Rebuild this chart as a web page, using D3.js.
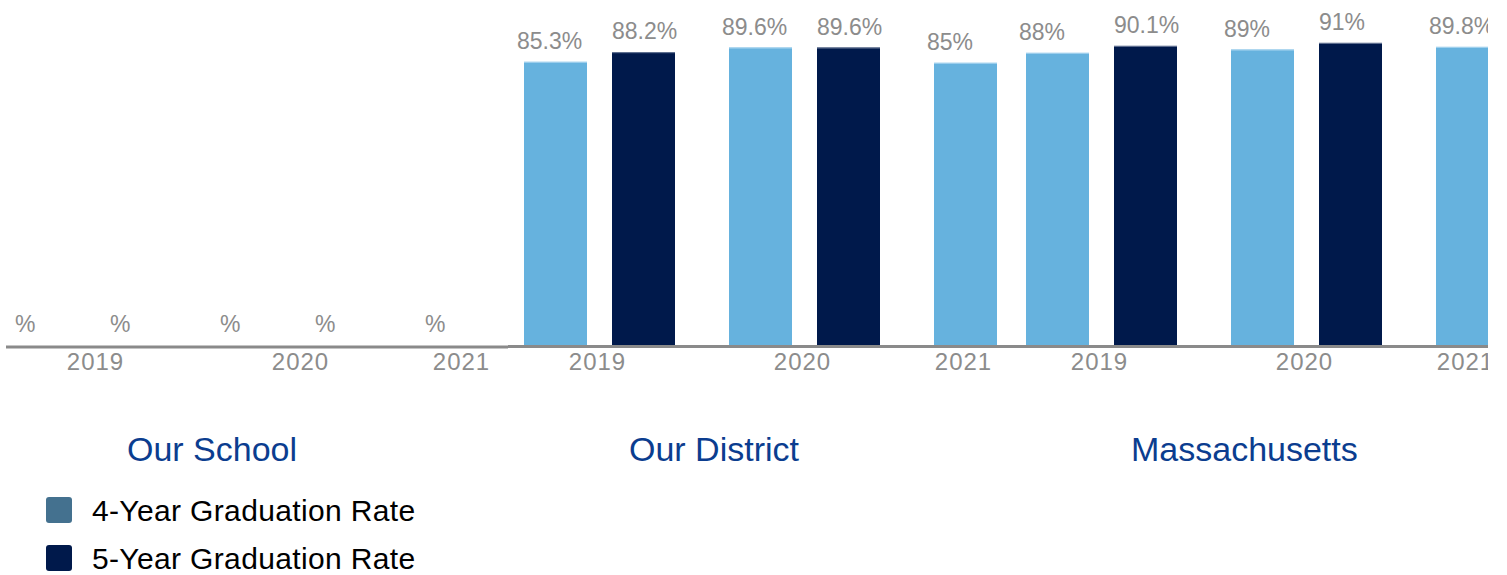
<!DOCTYPE html>
<html>
<head>
<meta charset="utf-8">
<script src="https://cdn.jsdelivr.net/npm/d3@7"></script>
<style>
  body { margin: 0; background: #fff; }
  svg { display: block; font-family: "Liberation Sans", Arial, sans-serif; }
</style>
</head>
<body>
<div id="chart"></div>
<script>
const panels = ["Our School", "Our District", "Massachusetts"];
const years = ["2019", "2020", "2021"];
const seriesNames = ["4-Year Graduation Rate", "5-Year Graduation Rate"];
// one row per panel, one value per year (null = no data, shown as "%")
const fourYear = [[null, null, null], [85.3, 89.6, 85], [88, 89, 89.8]];
const fiveYear = [[null, null], [88.2, 89.6], [90.1, 91]];

function init() {
  const width = 1507, height = 575;
  const baseline = 345;

  const svg = d3.select("#chart")
    .append("svg")
    .attr("width", width)
    .attr("height", height);

  svg.append("defs").append("clipPath")
    .attr("id", "plot-clip")
    .append("rect")
    .attr("x", 0).attr("y", 0)
    .attr("width", 1488).attr("height", 400);

  const plot = svg.append("g").attr("clip-path", "url(#plot-clip)");

  // scales
  const xPanel = d3.scaleBand().domain(panels).range([22, 22 + 3 * 502]);
  const xYear = d3.scaleBand().domain(years).range([0, 615]);
  const xSeries = d3.scaleBand().domain(seriesNames).range([0, 151]).paddingInner(25 / 88);
  const y = d3.scaleLinear().domain([0, 100]).range([baseline, 13]);

  const colors = { "4-Year Graduation Rate": "#66b2de", "5-Year Graduation Rate": "#00194b" };
  const topColors = { "4-Year Graduation Rate": "#a9d4ef", "5-Year Graduation Rate": "#6b7a99" };
  const legendColors = { "4-Year Graduation Rate": "#44718f", "5-Year Graduation Rate": "#00194b" };

  const bars = [];
  panels.forEach((p, i) => {
    years.forEach((yr, j) => {
      [fourYear[i], fiveYear[i]].forEach((vals, k) => {
        if (j < vals.length) {
          bars.push({ panel: p, year: yr, series: seriesNames[k], value: vals[j] });
        }
      });
    });
  });

  const barX = d => xPanel(d.panel) + xYear(d.year) + xSeries(d.series);
  const bw = xSeries.bandwidth();

  // axis line per panel
  panels.forEach((p, i) => {
    plot.append("line")
      .attr("x1", xPanel(p) - 16)
      .attr("x2", xPanel(p) - 16 + xPanel.bandwidth())
      .attr("y1", baseline + 1.5 + (i === 0 ? 0.5 : 0))
      .attr("y2", baseline + 1.5 + (i === 0 ? 0.5 : 0))
      .attr("stroke", "#8a8a8a")
      .attr("stroke-width", 3);
  });

  // bars
  plot.selectAll("rect.bar")
    .data(bars.filter(d => d.value != null))
    .enter()
    .append("rect")
    .attr("class", "bar")
    .attr("x", barX)
    .attr("y", d => y(d.value))
    .attr("width", bw)
    .attr("height", d => baseline - y(d.value))
    .attr("fill", d => colors[d.series]);

  plot.selectAll("line.bar-top")
    .data(bars.filter(d => d.value != null))
    .enter()
    .append("line")
    .attr("class", "bar-top")
    .attr("x1", barX)
    .attr("x2", d => barX(d) + bw)
    .attr("y1", d => y(d.value) + 0.5)
    .attr("y2", d => y(d.value) + 0.5)
    .attr("stroke", d => topColors[d.series])
    .attr("stroke-width", 1);

  // value labels
  plot.selectAll("text.value")
    .data(bars)
    .enter()
    .append("text")
    .attr("class", "value")
    .attr("x", d => barX(d) + (d.series === seriesNames[0] ? -7 : 0))
    .attr("y", d => y(d.value || 0) - 13)
    .style("font-size", "23px")
    .style("fill", "#8c8c8c")
    .text(d => (d.value == null ? "" : d.value) + "%");

  // year labels, centred under the bars present in each group
  const groups = d3.groups(bars, d => d.panel, d => d.year);
  groups.forEach(([p, ys]) => {
    ys.forEach(([yr, bs]) => {
      const x0 = d3.min(bs, barX), x1 = d3.max(bs, d => barX(d) + bw);
      plot.append("text")
        .attr("x", (x0 + x1) / 2 - 2)
        .attr("y", 370)
        .attr("text-anchor", "middle")
        .style("font-size", "24px")
        .style("letter-spacing", "1px")
        .style("fill", "#8c8c8c")
        .text(yr);
    });
  });

  // panel titles
  svg.selectAll("text.panel-title")
    .data(panels)
    .enter()
    .append("text")
    .attr("class", "panel-title")
    .attr("x", d => xPanel(d) + 105)
    .attr("y", 461)
    .style("font-size", "34px")
    .style("fill", "#0b3d8f")
    .text(d => d);

  // legend
  const legend = svg.append("g").attr("transform", "translate(46,497)");
  seriesNames.forEach((s, i) => {
    legend.append("rect")
      .attr("x", 0)
      .attr("y", i * 48)
      .attr("width", 26)
      .attr("height", 26)
      .attr("rx", 3)
      .attr("fill", legendColors[s]);
    legend.append("text")
      .attr("x", 46)
      .attr("y", i * 48 + 24)
      .style("font-size", "30px")
      .style("letter-spacing", "0.35px")
      .style("fill", "#000")
      .text(s);
  });
}

window.onload = init;
</script>
</body>
</html>
